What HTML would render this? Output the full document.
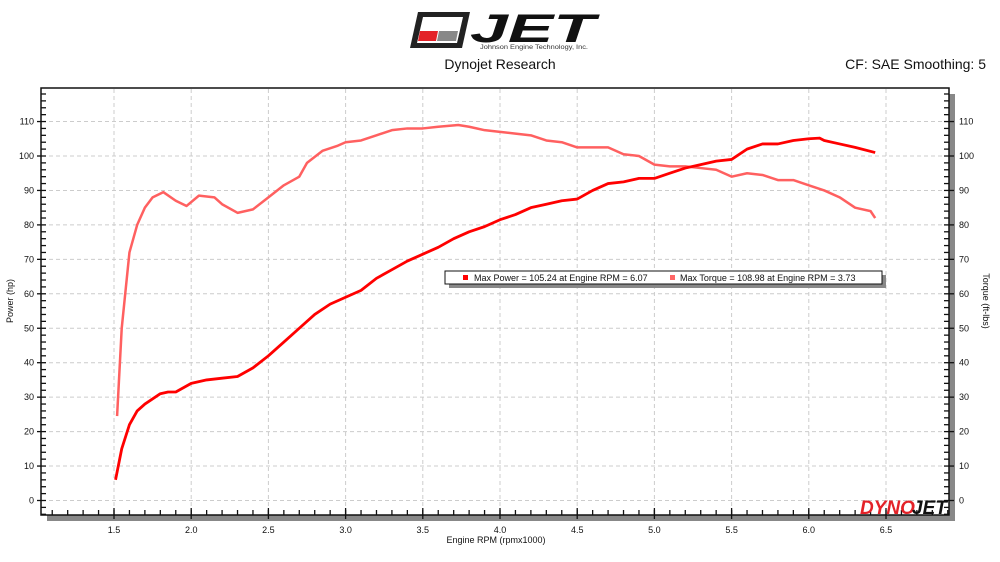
<!DOCTYPE html>
<html><head><meta charset="utf-8"><style>
html,body{margin:0;padding:0;background:#fff;width:1000px;height:562px;overflow:hidden;font-family:"Liberation Sans","DejaVu Sans",sans-serif}
</style></head><body>
<svg id="c" width="1000" height="562" xmlns="http://www.w3.org/2000/svg">
<g>
<path d="M418 12 L470 12 L462 48 L410 48 Z" fill="#222"/>
<path d="M423 17 L463 17 L457 43 L417 43 Z" fill="#fff"/>
<path d="M420 31 L438 31 L436 41 L418 41 Z" fill="#e32228"/>
<path d="M439 31 L458 31 L456 41 L437 41 Z" fill="#888"/>
<text x="470" y="42" font-size="40" font-weight="bold" font-style="italic" fill="#111" textLength="125" lengthAdjust="spacingAndGlyphs">JET</text>
<text x="480" y="49" font-size="6" fill="#333" textLength="108" lengthAdjust="spacingAndGlyphs">Johnson Engine Technology, Inc.</text>
</g>
<text x="500" y="69" font-size="14" text-anchor="middle" fill="#111">Dynojet Research</text>
<text x="986" y="69" font-size="14" text-anchor="end" fill="#111">CF: SAE Smoothing: 5</text>
<rect x="47" y="94" width="908" height="427" fill="#888"/>
<rect x="41" y="88" width="908" height="427" fill="#fff" stroke="#111" stroke-width="1.5"/>
<g id="grid"></g><g id="axes"></g><g id="series"></g>
<g>
<text x="860" y="514" font-size="19" font-weight="bold" font-style="italic" fill="#e32228">DYNO</text>
<text x="912" y="514" font-size="19" font-weight="bold" font-style="italic" fill="#111">JET</text>
</g>
<g>
<rect x="449" y="275" width="437" height="13" fill="#888"/>
<rect x="445" y="271" width="437" height="13" fill="#fff" stroke="#111" stroke-width="1"/>
<rect x="463" y="275" width="5" height="5" fill="#f00"/>
<text x="474" y="281" font-size="9" fill="#111">Max Power = 105.24 at Engine RPM = 6.07</text>
<rect x="670" y="275" width="5" height="5" fill="#ff6666"/>
<text x="680" y="281" font-size="9" fill="#111">Max Torque = 108.98 at Engine RPM = 3.73</text>
</g>
<text x="496" y="543" font-size="9" text-anchor="middle" fill="#111">Engine RPM (rpmx1000)</text>
<text transform="translate(13,301) rotate(-90)" font-size="9" text-anchor="middle" fill="#111">Power (hp)</text>
<text transform="translate(983,301) rotate(90)" font-size="9" text-anchor="middle" fill="#111">Torque (ft-lbs)</text>
</svg>
<script>
const xTicks=[1.5,2.0,2.5,3.0,3.5,4.0,4.5,5.0,5.5,6.0,6.5];
const yTicks=[0,10,20,30,40,50,60,70,80,90,100,110];
const powerRpm=[1.51,1.55,1.6,1.65,1.7,1.8,1.85,1.9,2.0,2.1,2.2,2.3,2.4,2.5,2.6,2.7,2.8,2.9,3.0,3.1,3.2,3.3,3.4,3.5,3.6,3.7,3.8,3.9,4.0,4.1,4.2,4.3,4.4,4.5,4.6,4.7,4.8,4.9,5.0,5.1,5.2,5.3,5.4,5.5,5.6,5.7,5.8,5.9,6.0,6.07,6.1,6.2,6.3,6.43];
const powerHp=[6,15,22,26,28,31,31.5,31.5,34,35,35.5,36,38.5,42,46,50,54,57,59,61,64.5,67,69.5,71.5,73.5,76,78,79.5,81.5,83,85,86,87,87.5,90,92,92.5,93.5,93.5,95,96.5,97.5,98.5,99,102,103.5,103.5,104.5,105,105.2,104.5,103.5,102.5,101];
const torqueRpm=[1.52,1.55,1.6,1.65,1.7,1.75,1.82,1.9,1.97,2.05,2.15,2.2,2.3,2.4,2.5,2.6,2.7,2.75,2.85,2.95,3.0,3.1,3.2,3.3,3.4,3.5,3.6,3.73,3.8,3.9,4.0,4.1,4.2,4.3,4.4,4.5,4.6,4.7,4.8,4.9,5.0,5.1,5.2,5.3,5.4,5.5,5.6,5.7,5.8,5.9,6.0,6.1,6.2,6.3,6.4,6.43];
const torqueFtlb=[24.5,50,72,80,85,88,89.5,87,85.5,88.5,88,86,83.5,84.5,88,91.5,94,98,101.5,103,104,104.5,106,107.5,108,108,108.5,109,108.5,107.5,107,106.5,106,104.5,104,102.5,102.5,102.5,100.5,100,97.5,97,97,96.5,96,94,95,94.5,93,93,91.5,90,88,85,84,82];
const X=v=>114+(v-1.5)*154.4;
const Y=v=>500.5-v*3.445;
const NS='http://www.w3.org/2000/svg';
function mk(t,a,p){const e=document.createElementNS(NS,t);for(const k in a)e.setAttribute(k,a[k]);p.appendChild(e);return e;}
const grid=document.getElementById('grid'),axes=document.getElementById('axes'),series=document.getElementById('series');
xTicks.forEach(v=>{
 const l=mk('line',{x1:X(v),x2:X(v),y1:89,y2:514,stroke:'#ccc','stroke-dasharray':'4,3'},grid);
 
 
 const t=mk('text',{x:X(v),y:533,'font-size':9,'text-anchor':'middle',fill:'#111'},axes);
 t.textContent=v.toFixed(1);
 
 
 mk('line',{x1:X(v),x2:X(v),y1:508,y2:519,stroke:'#111','stroke-width':1.3},axes);
});
for(let v=1.1;v<6.95;v+=0.1){mk('line',{x1:X(v),x2:X(v),y1:510,y2:515,stroke:'#111','stroke-width':1.3},axes);}
yTicks.forEach(v=>{
 const l=mk('line',{x1:42,x2:948,y1:Y(v),y2:Y(v),stroke:'#ccc','stroke-dasharray':'4,3'},grid);
 
 
 mk('line',{x1:37,x2:46,y1:Y(v),y2:Y(v),stroke:'#111','stroke-width':1.3},axes);
 mk('line',{x1:944,x2:954,y1:Y(v),y2:Y(v),stroke:'#111','stroke-width':1.3},axes);
 const t=mk('text',{x:34,y:Y(v)+3,'font-size':9,'text-anchor':'end',fill:'#111'},axes);
 t.textContent=v;
 
 
 const r=mk('text',{x:959,y:Y(v)+3,'font-size':9,fill:'#111'},axes);
 r.textContent=v;
 
 
});
for(let v=-4;v<=118;v+=2){if(v%10){mk('line',{x1:41,x2:46,y1:Y(v),y2:Y(v),stroke:'#111','stroke-width':1.3},axes);mk('line',{x1:944,x2:949,y1:Y(v),y2:Y(v),stroke:'#111','stroke-width':1.3},axes);}}
const tp=mk('polyline',{points:torqueRpm.map((r,i)=>X(r)+','+Y(torqueFtlb[i])).join(' '),fill:'none',stroke:'#ff6060','stroke-width':2.5,'stroke-linejoin':'round'},series);


const pp=mk('polyline',{points:powerRpm.map((r,i)=>X(r)+','+Y(powerHp[i])).join(' '),fill:'none',stroke:'#f00','stroke-width':2.8,'stroke-linejoin':'round'},series);


</script>
</body></html>
